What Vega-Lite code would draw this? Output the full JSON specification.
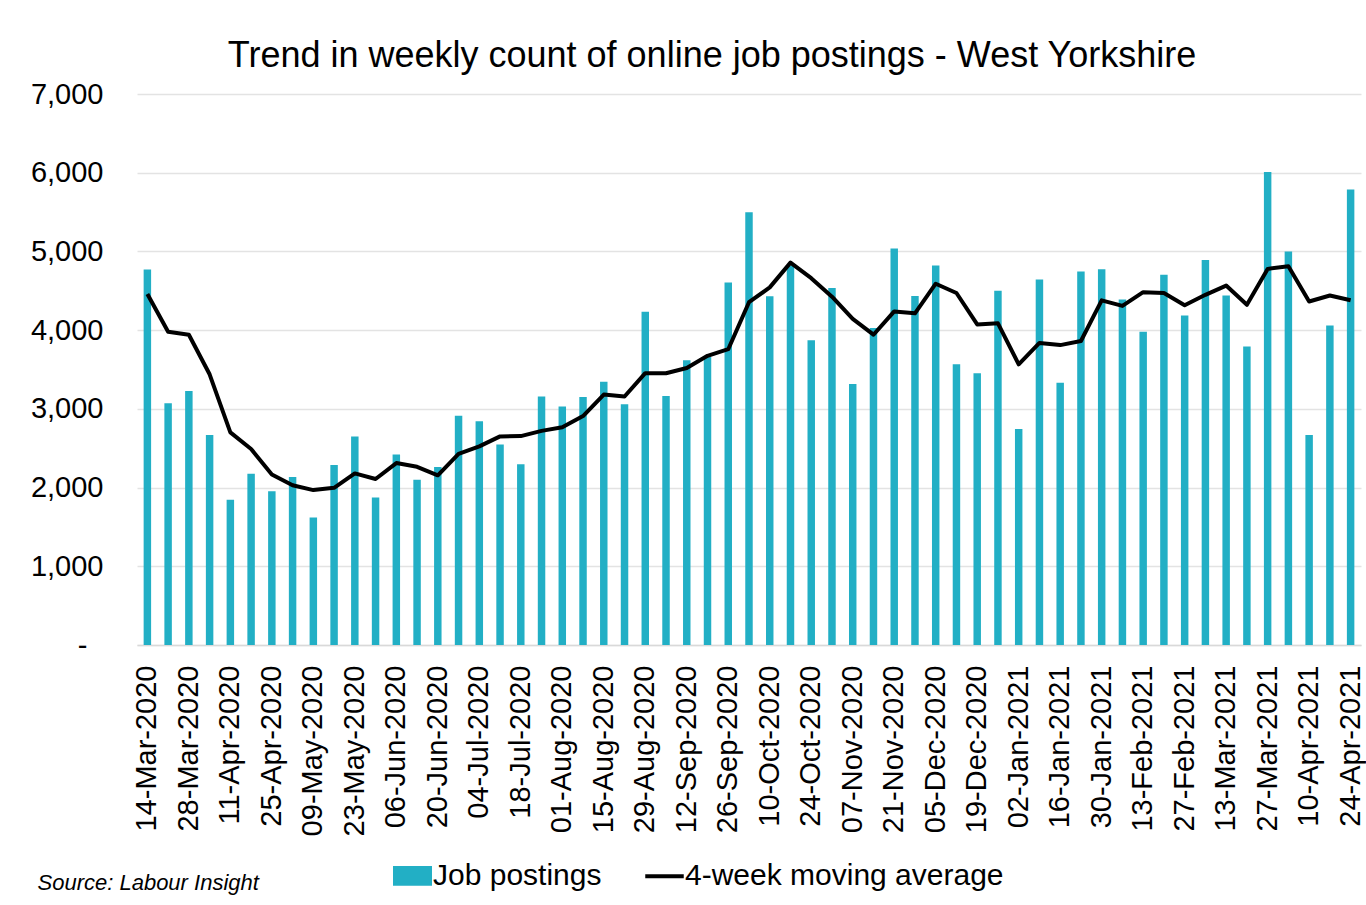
{
  "$schema": "https://vega.github.io/schema/vega-lite/v6.json",
  "width": 1224,
  "height": 551,
  "autosize": {"type": "none"},
  "padding": {"left": 137, "top": 94, "right": 5, "bottom": 260},
  "background": "white",
  "title": {
    "text": "Trend in weekly count of online job postings - West Yorkshire",
    "font": "Liberation Sans",
    "fontSize": 36,
    "fontWeight": "normal",
    "color": "#000000",
    "anchor": "middle",
    "frame": "group",
    "dx": -37,
    "offset": 5
  },
  "config": {
    "view": {"stroke": null},
    "font": "Liberation Sans"
  },
  "data": {
    "values": [
      {"week": "14-Mar-2020", "postings": 4770, "avg": 4460},
      {"week": "21-Mar-2020", "postings": 3072, "avg": 3979},
      {"week": "28-Mar-2020", "postings": 3227, "avg": 3942},
      {"week": "04-Apr-2020", "postings": 2668, "avg": 3439},
      {"week": "11-Apr-2020", "postings": 1846, "avg": 2701},
      {"week": "18-Apr-2020", "postings": 2175, "avg": 2490},
      {"week": "25-Apr-2020", "postings": 1954, "avg": 2166},
      {"week": "02-May-2020", "postings": 2133, "avg": 2030},
      {"week": "09-May-2020", "postings": 1621, "avg": 1968},
      {"week": "16-May-2020", "postings": 2288, "avg": 1997},
      {"week": "23-May-2020", "postings": 2650, "avg": 2180},
      {"week": "30-May-2020", "postings": 1874, "avg": 2109},
      {"week": "06-Jun-2020", "postings": 2419, "avg": 2311},
      {"week": "13-Jun-2020", "postings": 2100, "avg": 2264},
      {"week": "20-Jun-2020", "postings": 2260, "avg": 2156},
      {"week": "27-Jun-2020", "postings": 2913, "avg": 2429},
      {"week": "04-Jul-2020", "postings": 2842, "avg": 2523},
      {"week": "11-Jul-2020", "postings": 2546, "avg": 2650},
      {"week": "18-Jul-2020", "postings": 2297, "avg": 2654},
      {"week": "25-Jul-2020", "postings": 3157, "avg": 2720},
      {"week": "01-Aug-2020", "postings": 3030, "avg": 2767},
      {"week": "08-Aug-2020", "postings": 3152, "avg": 2908},
      {"week": "15-Aug-2020", "postings": 3345, "avg": 3181},
      {"week": "22-Aug-2020", "postings": 3058, "avg": 3157},
      {"week": "29-Aug-2020", "postings": 4233, "avg": 3453},
      {"week": "05-Sep-2020", "postings": 3162, "avg": 3453},
      {"week": "12-Sep-2020", "postings": 3617, "avg": 3519},
      {"week": "19-Sep-2020", "postings": 3660, "avg": 3674},
      {"week": "26-Sep-2020", "postings": 4604, "avg": 3758},
      {"week": "03-Oct-2020", "postings": 5497, "avg": 4355},
      {"week": "10-Oct-2020", "postings": 4430, "avg": 4543},
      {"week": "17-Oct-2020", "postings": 4820, "avg": 4858},
      {"week": "24-Oct-2020", "postings": 3871, "avg": 4660},
      {"week": "31-Oct-2020", "postings": 4534, "avg": 4425},
      {"week": "07-Nov-2020", "postings": 3317, "avg": 4144},
      {"week": "14-Nov-2020", "postings": 4026, "avg": 3942},
      {"week": "21-Nov-2020", "postings": 5036, "avg": 4238},
      {"week": "28-Nov-2020", "postings": 4435, "avg": 4214},
      {"week": "05-Dec-2020", "postings": 4820, "avg": 4590},
      {"week": "12-Dec-2020", "postings": 3566, "avg": 4472},
      {"week": "19-Dec-2020", "postings": 3453, "avg": 4073},
      {"week": "26-Dec-2020", "postings": 4501, "avg": 4087},
      {"week": "02-Jan-2021", "postings": 2744, "avg": 3566},
      {"week": "09-Jan-2021", "postings": 4642, "avg": 3838},
      {"week": "16-Jan-2021", "postings": 3331, "avg": 3810},
      {"week": "23-Jan-2021", "postings": 4745, "avg": 3862},
      {"week": "30-Jan-2021", "postings": 4773, "avg": 4379},
      {"week": "06-Feb-2021", "postings": 4388, "avg": 4308},
      {"week": "13-Feb-2021", "postings": 3979, "avg": 4482},
      {"week": "20-Feb-2021", "postings": 4703, "avg": 4472},
      {"week": "27-Feb-2021", "postings": 4186, "avg": 4317},
      {"week": "06-Mar-2021", "postings": 4891, "avg": 4449},
      {"week": "13-Mar-2021", "postings": 4440, "avg": 4566},
      {"week": "20-Mar-2021", "postings": 3791, "avg": 4322},
      {"week": "27-Mar-2021", "postings": 6009, "avg": 4778},
      {"week": "03-Apr-2021", "postings": 4999, "avg": 4811},
      {"week": "10-Apr-2021", "postings": 2668, "avg": 4364},
      {"week": "17-Apr-2021", "postings": 4059, "avg": 4440},
      {"week": "24-Apr-2021", "postings": 5788, "avg": 4379}
    ]
  },
  "encoding": {
    "x": {
      "field": "week",
      "type": "ordinal",
      "sort": null,
      "scale": {"paddingInner": 0.64, "paddingOuter": 0.32},
      "axis": {
        "title": "Source: Labour Insight",
        "titleFont": "Liberation Sans",
        "titleFontSize": 22,
        "titleFontStyle": "italic",
        "titleFontWeight": "normal",
        "titleColor": "#000000",
        "titleAlign": "left",
        "titleBaseline": "middle",
        "titleAnchor": "start",
        "titleX": -100,
        "titleY": 237,
        "values": ["14-Mar-2020","28-Mar-2020","11-Apr-2020","25-Apr-2020","09-May-2020","23-May-2020","06-Jun-2020","20-Jun-2020","04-Jul-2020","18-Jul-2020","01-Aug-2020","15-Aug-2020","29-Aug-2020","12-Sep-2020","26-Sep-2020","10-Oct-2020","24-Oct-2020","07-Nov-2020","21-Nov-2020","05-Dec-2020","19-Dec-2020","02-Jan-2021","16-Jan-2021","30-Jan-2021","13-Feb-2021","27-Feb-2021","13-Mar-2021","27-Mar-2021","10-Apr-2021","24-Apr-2021"],
        "labelAngle": -90,
        "labelFont": "Liberation Sans",
        "labelFontSize": 29,
        "labelColor": "#000000",
        "labelPadding": 20,
        "labelOverlap": false,
        "labelLimit": 0,
        "ticks": false,
        "grid": false,
        "domain": true,
        "domainColor": "#d9d9d9",
        "domainWidth": 1.5
      }
    }
  },
  "layer": [
    {
      "mark": {"type": "bar"},
      "encoding": {
        "y": {
          "field": "postings",
          "type": "quantitative",
          "scale": {"domain": [0, 7000], "nice": false},
          "axis": {
            "title": null,
            "values": [0, 1000, 2000, 3000, 4000, 5000, 6000, 7000],
            "labelExpr": "datum.value == 0 ? '-\u00a0\u00a0\u200b' : format(datum.value, ',')",
            "labelFont": "Liberation Sans",
            "labelFontSize": 29,
            "labelColor": "#000000",
            "labelPadding": 34,
            "ticks": false,
            "domain": false,
            "grid": true,
            "gridColor": "#e3e3e3",
            "gridWidth": 1.3
          }
        },
        "color": {
          "datum": "Job postings",
          "type": "nominal",
          "scale": {"domain": ["Job postings", "4-week moving average"], "range": ["#22AFC5", "#000000"]},
          "legend": {
            "title": null,
            "orient": "none",
            "direction": "horizontal",
            "legendX": 256,
            "legendY": 762,
            "labelFont": "Liberation Sans",
            "labelFontSize": 30,
            "labelColor": "#000000",
            "labelLimit": 0,
            "labelOffset": 1,
            "columnPadding": 35,
            "symbolSize": 1225,
            "encode": {
              "symbols": {
                "update": {
                  "shape": {"signal": "datum.value === 'Job postings' ? 'M-1,-0.45H1V0.45H-1Z' : 'M-1.1,0H1.1'"},
                  "fill": {"signal": "datum.value === 'Job postings' ? '#22AFC5' : 'transparent'"},
                  "stroke": {"signal": "datum.value === 'Job postings' ? 'transparent' : '#000000'"},
                  "strokeWidth": {"value": 4},
                  "opacity": {"value": 1}
                }
              }
            }
          }
        }
      }
    },
    {
      "mark": {"type": "line", "strokeWidth": 4, "strokeJoin": "round"},
      "encoding": {
        "y": {"field": "avg", "type": "quantitative"},
        "color": {"datum": "4-week moving average", "type": "nominal"}
      }
    }
  ]
}
